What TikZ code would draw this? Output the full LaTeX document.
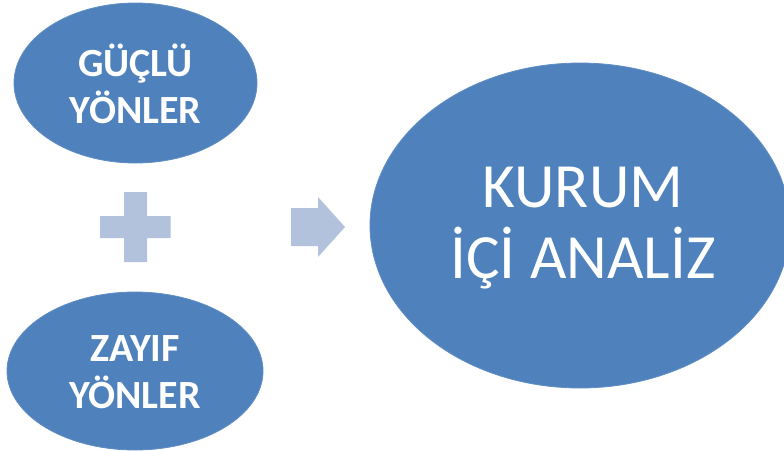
\documentclass[tikz,border=0pt]{standalone}
\usepackage{fontspec}
\setmainfont{Carlito}
\usetikzlibrary{shapes.geometric}
\definecolor{ovalblue}{HTML}{4F81BD}
\definecolor{lightblue}{HTML}{B3C2DC}
\begin{document}
\begin{tikzpicture}[x=1pt,y=-1pt,
  oval/.style={ellipse,fill=ovalblue,draw=ovalblue!90!white,line width=0.8pt,inner sep=0pt},
  label/.style={text=white,align=center,inner sep=0pt},
  small/.style={font=\fontsize{40}{47}\selectfont\bfseries},
  big/.style={font=\fontsize{63}{71}\selectfont},
  sign/.style={fill=lightblue,draw=none}]
\useasboundingbox (0,0) rectangle (784,450);
\clip (0,0) rectangle (784,450);
\node[oval,minimum width=243pt,minimum height=160pt] (guclu) at (135.5,83) {};
\node[label,small] (guclut) at ([yshift=-1pt]guclu.center) {GÜÇLÜ\\YÖNLER};
\node[oval,minimum width=256pt,minimum height=158pt] (zayif) at (135,371) {};
\node[label,small] (zayift) at ([yshift=-1pt]zayif.center) {ZAYIF\\YÖNLER};
\node[oval,minimum width=420pt,minimum height=325pt] (kurum) at (580,225.5) {};
\node[label,big] (kurumt) at ([xshift=3pt,yshift=-3pt]kurum.center) {KURUM\\İÇİ ANALİZ};
\coordinate (plusc) at (135.5,227);
\fill[sign] ([shift={(-11.5,-35)}]plusc) -- ++(23,0) -- ++(0,24) -- ++(23.5,0) -- ++(0,22) -- ++(-23.5,0) -- ++(0,24) -- ++(-23,0) -- ++(0,-24) -- ++(-24,0) -- ++(0,-22) -- ++(24,0) -- cycle;
\coordinate (arrc) at (291,227);
\fill[sign] ([shift={(0,-19)}]arrc) -- ++(27,0) -- ++(0,-11) -- ++(27,30) -- ++(-27,30) -- ++(0,-11) -- ++(-27,0) -- cycle;
\end{tikzpicture}
\end{document}
